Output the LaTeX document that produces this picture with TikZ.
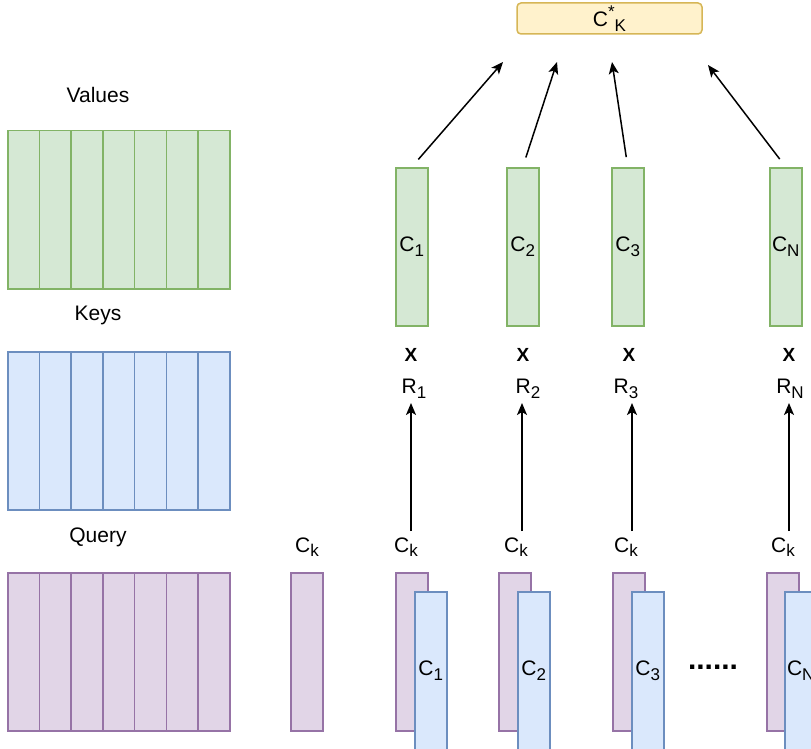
\documentclass[tikz,border=0pt]{standalone}
\usepackage{fontspec}
\setmainfont{Liberation Sans}
\usetikzlibrary{arrows.meta}

\definecolor{grnfill}{HTML}{D5E8D4}
\definecolor{grnline}{HTML}{82B366}
\definecolor{bluefill}{HTML}{DAE8FC}
\definecolor{blueline}{HTML}{6C8EBF}
\definecolor{purfill}{HTML}{E1D5E7}
\definecolor{purline}{HTML}{9673A6}
\definecolor{yelfill}{HTML}{FFF2CC}
\definecolor{yelline}{HTML}{D6B656}

% lowered / raised small text in the same face
\newcommand{\lsub}[1]{\raisebox{-0.22em}{\fontsize{17}{17}\selectfont #1}}
\newcommand{\lsup}[1]{\raisebox{0.45em}{\fontsize{17}{17}\selectfont #1}}

\tikzset{
  txt/.style={font=\fontsize{21}{25}\selectfont,inner sep=2pt},
  bold/.style={font=\fontsize{19}{22}\selectfont\bfseries,inner sep=2pt},
  col/.style={draw,line width=1.5pt,minimum width=32pt,minimum height=158pt,
    inner sep=0pt,anchor=north west,txt},
  cell/.style={col,minimum width=31.7pt,minimum height=157pt},
  valcol/.style={col,fill=grnfill,draw=grnline},
  keycol/.style={col,fill=bluefill,draw=blueline},
  qrycol/.style={col,fill=purfill,draw=purline},
  arr/.style={->,line width=1.5pt},
  >={Stealth[length=12pt,width=10pt,inset=3pt]},
}

\begin{document}
\begin{tikzpicture}[x=1pt,y=-1pt]
  \useasboundingbox (0,0) rectangle (811,749);

  % memory blocks on the left
  \foreach \i in {0,...,6} {
    \node[cell,valcol] (val\i) at ({7+31.7*\i},130) {};
    \node[cell,keycol] (key\i) at ({7+31.7*\i},351) {};
    \node[cell,qrycol] (qry\i) at ({7+31.7*\i},572) {};
  }
  \node[txt] (vallbl) at (98,95) {Values};
  \node[txt] (keylbl) at (98,315) {Keys};
  \node[txt] (qrylbl) at (98,537) {Query};

  % output
  \node[txt,draw=yelline,fill=yelfill,line width=1.5pt,rounded corners=4pt,
    minimum width=185pt,minimum height=31pt] (out) at (609.5,18.5)
    {C\lsup{*}\lsub{K}};

  % value columns
  \node[valcol] (v1) at (395,167) {C\lsub{1}};
  \node[valcol] (v2) at (506,167) {C\lsub{2}};
  \node[valcol] (v3) at (611,167) {C\lsub{3}};
  \node[valcol] (v4) at (769,167) {C\lsub{N}};

  \coordinate (t1) at (503,62);
  \coordinate (t2) at (557,62);
  \coordinate (t3) at (612,62);
  \coordinate (t4) at (708,65);
  \foreach \i in {1,...,4}
    \draw[arr,shorten <=10pt] (v\i.north) -- (t\i);

  % products
  \node[bold] (x1) at (411,355) {X};
  \node[bold] (x2) at (523,355) {X};
  \node[bold] (x3) at (629,355) {X};
  \node[bold] (x4) at (789,355) {X};

  \node[txt] (r1) at (414,389) {R\lsub{1}};
  \node[txt] (r2) at (528,389) {R\lsub{2}};
  \node[txt] (r3) at (626,389) {R\lsub{3}};
  \node[txt] (r4) at (790,389) {R\lsub{N}};

  \node[txt] (ck0) at (307,547) {C\lsub{k}};
  \node[txt] (ck1) at (406,547) {C\lsub{k}};
  \node[txt] (ck2) at (516,547) {C\lsub{k}};
  \node[txt] (ck3) at (626,547) {C\lsub{k}};
  \node[txt] (ck4) at (783,547) {C\lsub{k}};

  \coordinate (a1) at (411,403);
  \coordinate (a2) at (522,403);
  \coordinate (a3) at (632,403);
  \coordinate (a4) at (789,403);
  \foreach \i in {1,...,4}
    \draw[arr,shorten <=4pt] (a\i |- ck\i.north) -- (a\i);

  % query against each key
  \node[qrycol] (q0) at (290,572) {};
  \node[qrycol] (q1) at (395,572) {};
  \node[qrycol] (q2) at (498,572) {};
  \node[qrycol] (q3) at (612,572) {};
  \node[qrycol] (q4) at (766,572) {};
  \node[keycol] (k1) at (414,591) {C\lsub{1}};
  \node[keycol] (k2) at (517,591) {C\lsub{2}};
  \node[keycol] (k3) at (631,591) {C\lsub{3}};
  \node[keycol] (k4) at (784,591) {C\lsub{N}};

  \node[font=\fontsize{30}{30}\selectfont\bfseries,anchor=base,inner sep=0pt]
    (dots) at (713,669) {......};
\end{tikzpicture}
\end{document}
